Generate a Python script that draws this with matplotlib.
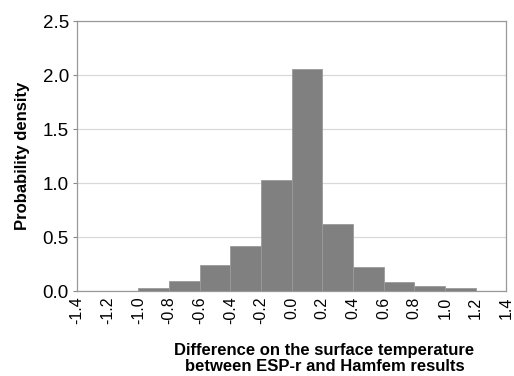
import matplotlib.pyplot as plt
import numpy as np

# bin edges and probability density
bin_left = [-1.4, -1.2, -1.0, -0.8, -0.6, -0.4, -0.2, 0.0, 0.2, 0.4, 0.6, 0.8, 1.0, 1.2]
density = [0.004, 0.004, 0.03, 0.095, 0.24, 0.42, 1.03, 2.06, 0.62, 0.22, 0.08, 0.046, 0.03, 0.004]
xticks = [-1.4, -1.2, -1.0, -0.8, -0.6, -0.4, -0.2, 0.0, 0.2, 0.4, 0.6, 0.8, 1.0, 1.2, 1.4]
yticks = [0.0, 0.5, 1.0, 1.5, 2.0, 2.5]

plt.rcParams['font.family'] = ['Liberation Sans', 'DejaVu Sans']

fig = plt.figure(figsize=(5.14, 3.76), dpi=100)
ax = fig.add_axes([0.150, 0.226, 0.835, 0.718])

ax.bar(bin_left, density, width=0.2, align='edge', color='#808080',
       edgecolor='#9a9a9a', linewidth=0.6, zorder=3)

ax.set_xlim(-1.4, 1.4)
ax.set_ylim(0, 2.5)
ax.set_xticks(xticks)
ax.set_xticklabels([f"{t:.1f}" for t in xticks], rotation=90, fontsize=11.5)
ax.set_yticks(yticks)
ax.set_yticklabels([f"{t:.1f}" for t in yticks], fontsize=13.5)
ax.tick_params(axis='x', length=0, pad=4)
ax.tick_params(axis='y', length=3, color='#888888', pad=3)

ax.grid(axis='y', color='#d9d9d9', linewidth=0.9, zorder=0)
for s in ax.spines.values():
    s.set_color('#999999')
    s.set_linewidth(0.9)

ax.set_ylabel('Probability density', fontsize=12, fontweight='bold', labelpad=9)
ax.set_xlabel('Difference on the surface temperature\nbetween ESP-r and Hamfem results',
              fontsize=12, fontweight='bold', linespacing=1.1)
ax.xaxis.set_label_coords(0.576, -0.192)

fig.savefig('out.png', dpi=100)
